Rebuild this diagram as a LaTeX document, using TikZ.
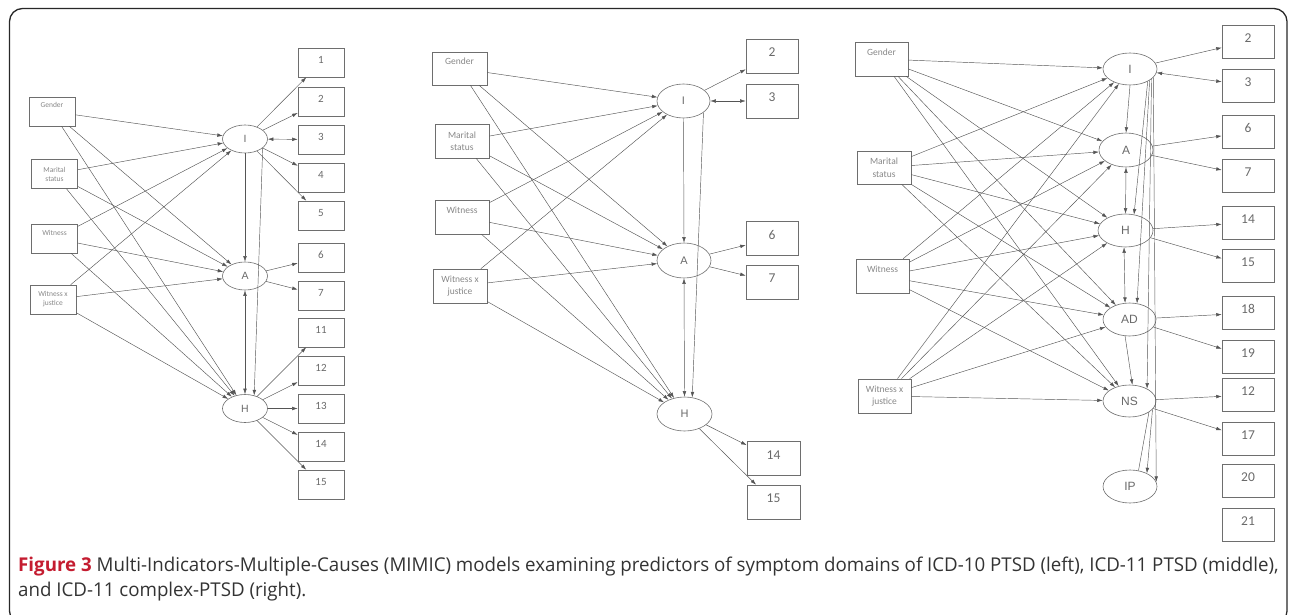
\documentclass[tikz,border=0pt]{standalone}
\usepackage{fontspec}
\setmainfont{Carlito}
\newfontfamily\capfont[FakeStretch=0.985]{Open Sans}
\newfontfamily\latfont{Liberation Sans}
\usetikzlibrary{arrows.meta,shapes.geometric}
\definecolor{ln}{RGB}{85,85,85}
\definecolor{bx}{RGB}{110,110,110}
\definecolor{txt}{RGB}{105,105,105}
\definecolor{ptxt}{RGB}{135,135,135}
\definecolor{figred}{RGB}{196,28,48}
\definecolor{frm}{RGB}{40,40,40}
\begin{document}
\begin{tikzpicture}[x=1pt,y=-1pt,
  tip/.tip={Latex[length=5.5pt,width=3.6pt]},
  arr/.style={draw=ln,line width=0.45pt,-tip},
  darr/.style={draw=ln,line width=0.45pt,tip-tip},
  plain/.style={draw=ln,line width=0.45pt},
  pbase/.style={draw=bx,line width=0.6pt,rectangle,inner sep=0pt,align=center,text=ptxt},
  lpred/.style={pbase,minimum width=46pt,minimum height=29pt,font=\fontsize{7.5}{9}\selectfont},
  mpred/.style={pbase,minimum width=54pt,minimum height=34pt,font=\fontsize{9.5}{12.5}\selectfont},
  up/.style={text height=5pt,text depth=12pt},
  ibase/.style={draw=bx,line width=0.6pt,rectangle,inner sep=0pt,text=txt},
  lind/.style={ibase,minimum width=46pt,minimum height=29pt,font=\fontsize{11}{12}\selectfont,text height=7pt,text depth=5pt},
  mind/.style={ibase,minimum width=52pt,minimum height=34pt,font=\fontsize{13.5}{14}\selectfont,text height=8.5pt,text depth=7pt},
  lbase/.style={draw=bx,line width=0.6pt,ellipse,inner sep=0pt,text=txt},
  latL/.style={lbase,minimum width=45pt,minimum height=28pt,font=\latfont\fontsize{10.5}{11}\selectfont},
  latM/.style={lbase,minimum width=54pt,minimum height=34pt,font=\latfont\fontsize{11}{12}\selectfont},
  latR/.style={lbase,minimum width=54pt,minimum height=33pt,font=\latfont\fontsize{12}{13}\selectfont},
  frame/.style={draw=frm,line width=1.3pt,rounded corners=13pt}
]
\useasboundingbox (0,0) rectangle (1292,615);
\draw[frame] (9.5,8.5) rectangle (1287,624);

% ---------------- LEFT PANEL ----------------
\node[lpred,up] (Lg) at (52,111.5) {Gender};
\node[lpred] (Lm) at (54.5,174) {Marital\\status};
\node[lpred,up] (Lw) at (54.5,238.5) {Witness};
\node[lpred] (Lj) at (53,299.5) {Witness x\\justice};
\node[latL] (LI) at (245,139) {I};
\node[latL] (LA) at (245,276) {A};
\node[latL] (LH) at (245,408.5) {H};
\node[lind] (l1) at (321,62.5) {1};
\node[lind] (l2) at (321,101.5) {2};
\node[lind] (l3) at (321,139.5) {3};
\node[lind] (l4) at (321,177.5) {4};
\node[lind] (l5) at (321,215.5) {5};
\node[lind] (l6) at (321,257.5) {6};
\node[lind] (l7) at (321,295.5) {7};
\node[lind] (l11) at (321,332.5) {11};
\node[lind] (l12) at (321,370.5) {12};
\node[lind] (l13) at (321,408.5) {13};
\node[lind] (l14) at (321,446.5) {14};
\node[lind] (l15) at (321,484.5) {15};
\foreach \p in {Lg,Lm,Lw,Lj}{\foreach \l in {LI,LA,LH}{\draw[arr] (\p) -- (\l);}}
\draw[arr] (LI.south) -- (LA.north);
\draw[arr] (LI.-27) -- (LH.55);
\draw[darr] (LA.south) -- (LH.north);
\foreach \b in {l1,l2,l4,l5}{\draw[arr] (LI) -- (\b);}
\draw[darr] (LI) -- (l3);
\foreach \b in {l6,l7}{\draw[arr] (LA) -- (\b);}
\foreach \b in {l11,l12,l13,l14,l15}{\draw[arr] (LH) -- (\b);}

% ---------------- MIDDLE PANEL ----------------
\node[mpred,up,minimum width=55pt,minimum height=33pt] (Mg) at (459.5,68.5) {Gender};
\node[mpred] (Mm) at (462,141) {Marital\\status};
\node[mpred,up] (Mw) at (462,217) {Witness};
\node[mpred] (Mj) at (460,286) {Witness x\\justice};
\node[latM,minimum width=53pt] (MI) at (683.5,101) {I};
\node[latM,minimum height=35pt] (MA) at (684,260.5) {A};
\node[latM,minimum width=55pt] (MH) at (684.5,414) {H};
\node[mind] (m2) at (772,56) {2};
\node[mind] (m3) at (772,101) {3};
\node[mind] (m6) at (772,238.5) {6};
\node[mind] (m7) at (772,282) {7};
\node[mind,minimum width=53pt] (m14) at (773.5,458.5) {14};
\node[mind,minimum width=53pt] (m15) at (773.5,502) {15};
\foreach \p in {Mg,Mm,Mw,Mj}{\foreach \l in {MI,MA,MH}{\draw[arr] (\p) -- (\l);}}
\draw[arr] (MI.south) -- (MA.north);
\draw[arr] (MI.-30) -- (MH.65);
\draw[darr] (MA.south) -- (MH.north);
\draw[arr] (MI) -- (m2);
\draw[darr] (MI) -- (m3);
\draw[arr] (MA) -- (m6);
\draw[arr] (MA) -- (m7);
\draw[arr] (MH) -- (m14);
\draw[arr] (MH) -- (m15);

% ---------------- RIGHT PANEL ----------------
\node[mpred,up,minimum width=53pt] (Rg) at (881.5,59) {Gender};
\node[mpred,minimum height=33pt] (Rm) at (884,167.5) {Marital\\status};
\node[mpred,up,minimum width=53pt] (Rw) at (882.5,276) {Witness};
\node[mpred,minimum width=53pt] (Rj) at (884.5,396) {Witness x\\justice};
\node[latR,minimum height=32pt] (RI) at (1130,69) {I};
\node[latR,minimum height=34pt] (RA) at (1126,150) {A};
\node[latR,minimum width=55pt] (RH) at (1125.5,230.5) {H};
\node[latR,minimum width=53pt] (RAD) at (1129.5,319.5) {AD};
\node[latR,minimum width=53pt,minimum height=32pt] (RNS) at (1129.5,401) {NS};
\node[latR] (RIP) at (1130,486.5) {IP};
\node[mind,minimum height=33pt] (r2) at (1248,41.5) {2};
\node[mind,minimum height=33pt] (r3) at (1248,85.5) {3};
\node[mind,minimum height=33pt] (r6) at (1248,132) {6};
\node[mind,minimum height=33pt] (r7) at (1248,175.5) {7};
\node[mind,minimum height=33pt] (r14) at (1248,222.5) {14};
\node[mind,minimum height=33pt] (r15) at (1248,266) {15};
\node[mind,minimum height=33pt] (r18) at (1248,313) {18};
\node[mind,minimum height=33pt] (r19) at (1248,357) {19};
\node[mind,minimum height=33pt] (r12) at (1248,395) {12};
\node[mind,minimum height=33pt] (r17) at (1248,438.5) {17};
\node[mind,minimum height=33pt] (r20) at (1248,481) {20};
\node[mind,minimum height=33pt] (r21) at (1248,525) {21};
\foreach \p in {Rg,Rm,Rw,Rj}{\foreach \l in {RI,RA,RH,RAD,RNS}{\draw[arr] (\p) -- (\l);}}
\draw[arr] (RI.south) -- (RA.north);
\draw[darr] (RA.south) -- (RH.north);
\draw[arr] (RI.-35) -- (RH.62);
\draw[darr] (RH.-95) -- (RAD.105);
\draw[arr] (RI.-30) -- (RAD.65);
\draw[arr] (RAD.-105) -- (RNS.80);
\draw[arr] (RI.-25) -- (RNS.35);
\draw[arr] (RI.-20) -- (RIP.10);
\draw[arr] (RNS.-20) -- (RIP.38);
\draw[plain] (RIP.62) -- (RNS.-30);
\draw[arr] (RI) -- (r2);
\draw[darr] (RI) -- (r3);
\draw[arr] (RA) -- (r6);
\draw[arr] (RA) -- (r7);
\draw[arr] (RH) -- (r14);
\draw[arr] (RH) -- (r15);
\draw[arr] (RAD) -- (r18);
\draw[arr] (RAD) -- (r19);
\draw[arr] (RNS) -- (r12);
\draw[arr] (RNS) -- (r17);

% ---------------- CAPTION ----------------
\node[anchor=north west,inner sep=0pt,align=left,font=\capfont\fontsize{19}{25}\selectfont,text=black!80] (cap) at (18,556.5)
 {{\bfseries\color{figred}Figure 3} Multi-Indicators-Multiple-Causes (MIMIC) models examining predictors of symptom domains of ICD-10 PTSD (left), ICD-11 PTSD (middle),\\
 and ICD-11 complex-PTSD (right).};
\end{tikzpicture}
\end{document}
